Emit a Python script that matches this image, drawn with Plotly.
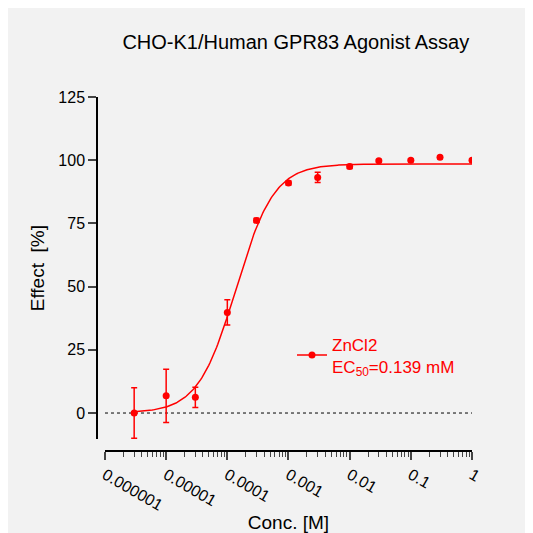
import numpy as np
import plotly.graph_objects as go

conc = [3e-6, 1e-5, 3e-5, 1e-4, 3e-4, 1e-3, 3e-3, 1e-2, 3e-2, 0.1, 0.3, 1.0]
effect = [0, 6.8, 6.2, 39.8, 76.2, 91.0, 93.2, 97.5, 99.8, 100.0, 101.2, 100.0]
err = [10, 10.5, 4, 5, 0.8, 0.8, 2, 0.8, 0.5, 0.5, 0.5, 0.5]
top, bottom, ec50, hill = 98.5, 0.0, 1.39e-4, 1.4
tickvals = [1e-6, 1e-5, 1e-4, 1e-3, 1e-2, 1e-1, 1]
ticktext = ["0.000001", "0.00001", "0.0001", "0.001", "0.01", "0.1", "1"]

xf = np.logspace(np.log10(3e-6), 0, 300)
yf = bottom + (top - bottom) / (1 + (ec50 / xf) ** hill)

red = "#ff0000"
fig = go.Figure()
fig.add_trace(go.Scatter(x=[1e-6, 1], y=[0, 0], mode="lines", line=dict(color="black", dash="dot", width=1), showlegend=False))
fig.add_trace(go.Scatter(x=xf, y=yf, mode="lines", line=dict(color=red, width=1.5), showlegend=False))
fig.add_trace(go.Scatter(x=conc, y=effect, mode="markers", marker=dict(color=red, size=7),
                         error_y=dict(array=err, color=red, thickness=1.5, width=3), showlegend=False))
fig.add_trace(go.Scatter(x=[None], y=[None], mode="lines+markers", line=dict(color=red, width=1.5),
                         marker=dict(color=red, size=7), name="ZnCl2<br>EC<sub>50</sub>=0.139 mM"))

fig.update_layout(
    width=533, height=533, margin=dict(l=89, r=69, t=89, b=82),
    paper_bgcolor="#f2f2f2", plot_bgcolor="#f2f2f2",
    font=dict(family="Liberation Sans, Arial", color="black", size=16),
    title=dict(text="CHO-K1/Human GPR83 Agonist Assay", x=0.54, xanchor="center", y=0.95, font=dict(size=20)),
    xaxis=dict(type="log", range=[-6, 0], domain=[0.0213, 1], anchor="free", position=0,
               tickvals=tickvals, ticktext=ticktext, ticks="outside", ticklen=8, tickwidth=1.5,
               showline=True, linecolor="black", linewidth=1.5, showgrid=False, zeroline=False,
               minor=dict(ticks="outside", ticklen=5, tickwidth=1.2, dtick="D1", showgrid=False),
               title=dict(text="Conc. [M]", standoff=2), tickfont=dict(size=16)),
    yaxis=dict(range=[-10.4, 125], domain=[0.033, 1], anchor="free", position=0,
               tickvals=[0, 25, 50, 75, 100, 125], ticks="outside", ticklen=8, tickwidth=1.5,
               showline=True, linecolor="black", linewidth=1.5, showgrid=False, zeroline=False,
               title=dict(text="Effect  [%]", standoff=8), tickfont=dict(size=16)),
    legend=dict(x=0.52, y=0.27, xanchor="left", yanchor="middle", bgcolor="rgba(0,0,0,0)",
                font=dict(color=red, size=17)),
)
fig.write_html("out.html")
